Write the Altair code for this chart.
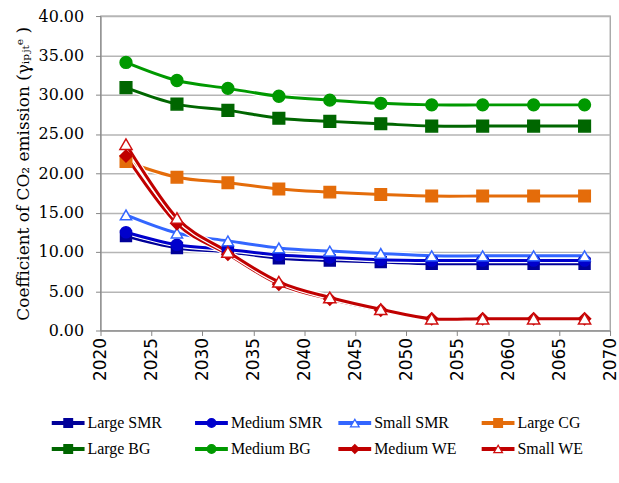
import altair as alt
import pandas as pd

years = [2022.5, 2027.5, 2032.5, 2037.5, 2042.5, 2047.5, 2052.5, 2057.5, 2062.5, 2067.5]

series_names = ["Large SMR", "Medium SMR", "Small SMR", "Large CG",
                "Large BG", "Medium BG", "Medium WE", "Small WE"]

large_smr = [12.0, 10.5, 10.0, 9.2, 8.9, 8.7, 8.5, 8.5, 8.5, 8.5]
medium_smr = [12.5, 10.9, 10.3, 9.6, 9.3, 9.0, 8.9, 8.9, 8.9, 8.9]
small_smr = [14.7, 12.4, 11.4, 10.5, 10.1, 9.8, 9.5, 9.5, 9.5, 9.5]
large_cg = [21.5, 19.5, 18.8, 18.0, 17.6, 17.3, 17.1, 17.1, 17.1, 17.1]
large_bg = [30.9, 28.8, 28.0, 27.0, 26.6, 26.3, 26.0, 26.0, 26.0, 26.0]
medium_bg = [34.1, 31.8, 30.8, 29.8, 29.3, 28.9, 28.7, 28.7, 28.7, 28.7]
medium_we = [22.2, 13.6, 9.7, 5.9, 4.0, 2.6, 1.5, 1.5, 1.5, 1.5]
small_we = [23.7, 14.3, 10.0, 6.2, 4.2, 2.7, 1.5, 1.5, 1.5, 1.5]

all_values = [large_smr, medium_smr, small_smr, large_cg,
              large_bg, medium_bg, medium_we, small_we]

line_colors = ["#000099", "#0000CC", "#3366FF", "#E46C0A",
               "#006600", "#009900", "#C00000", "#C00000"]
marker_shapes = ["square", "circle", "triangle-up", "square",
                 "square", "circle", "diamond", "triangle-up"]
marker_fills = ["#000099", "#0000CC", "#FFFFFF", "#E46C0A",
                "#006600", "#009900", "#C00000", "#FFFFFF"]
marker_strokes = ["#000099", "#0000CC", "#3366FF", "#E46C0A",
                  "#006600", "#009900", "#C00000", "#D01010"]
marker_sizes = [120, 150, 120, 150, 170, 150, 110, 120]

rows = []
for name, vals in zip(series_names, all_values):
    for yr, v in zip(years, vals):
        rows.append({"series": name, "year": yr, "value": v})
df = pd.DataFrame(rows)

SERIF = "DejaVu Serif"
LEGEND_FONT = "Liberation Serif"

x_enc = alt.X("year:Q",
              scale=alt.Scale(domain=[2020, 2070], nice=False, zero=False),
              axis=alt.Axis(values=list(range(2020, 2071, 5)), format="d",
                            labelAngle=270, labelFont="DejaVu Sans", labelFontSize=17,
                            labelColor="#000000", labelPadding=2, tickSize=5,
                            tickColor="#868686", domainColor="#868686",
                            grid=False, title=None, labelFlush=False,
                            labelOverlap=False))
y_enc = alt.Y("value:Q",
              scale=alt.Scale(domain=[0, 40], nice=False),
              axis=alt.Axis(values=list(range(0, 41, 5)), format=".2f",
                            labelFont=SERIF, labelFontSize=16, labelColor="#000000",
                            labelPadding=12, tickSize=5, tickColor="#868686",
                            domainColor="#868686", gridColor="#B5B5B5",
                            gridWidth=1.5,
                            title="Coefficient of CO\u2082 emission (\u03b3\u1d62\u209a\u2c7c\u209c\u1d49 )",
                            titleFont=SERIF, titleFontSize=17,
                            titleFontWeight="normal", titleColor="#000000",
                            titlePadding=6, labelOverlap=False))

base = alt.Chart(df)
layers = []
for i, name in enumerate(series_names):
    filt = base.transform_filter(alt.datum.series == name)
    layers.append(filt.mark_line(interpolate="cardinal", strokeWidth=5.5,
                                 color="#FFFFFF").encode(x=x_enc, y=y_enc))
    layers.append(filt.mark_line(interpolate="cardinal", strokeWidth=3,
                                 color=line_colors[i]).encode(x=x_enc, y=y_enc))

points = base.mark_point(filled=True, strokeWidth=1.5, opacity=1).encode(
    x=x_enc, y=y_enc,
    shape=alt.Shape("series:N", scale=alt.Scale(domain=series_names, range=marker_shapes), legend=None),
    fill=alt.Fill("series:N", scale=alt.Scale(domain=series_names, range=marker_fills), legend=None),
    stroke=alt.Stroke("series:N", scale=alt.Scale(domain=series_names, range=marker_strokes), legend=None),
    size=alt.Size("series:N", scale=alt.Scale(domain=series_names, range=marker_sizes), legend=None),
)
layers.append(points)

main = alt.layer(*layers).properties(width=512, height=316)

# legend panel built from the same series list
leg_df = pd.DataFrame({
    "series": series_names,
    "col": [i % 4 for i in range(len(series_names))],
    "row": [i // 4 for i in range(len(series_names))],
})
leg_df["x0"] = leg_df["col"]
leg_df["x1"] = leg_df["col"] + 0.229
leg_df["xm"] = leg_df["col"] + 0.115
leg_df["xt"] = leg_df["col"] + 0.25

LEG_W = 512
LEG_H = 66
px_per_col = 144.0
d0 = 49.0 / px_per_col
d1 = d0 + LEG_W / px_per_col
row_px = 26.0
row0 = 33.0
yd0 = -row0 / row_px
yd1 = yd0 + LEG_H / row_px

lx = alt.Scale(domain=[d0, d1], nice=False, zero=False)
ly = alt.Scale(domain=[yd0, yd1], nice=False, zero=False, reverse=True)

lbase = alt.Chart(leg_df)
leg_line = lbase.mark_rule(strokeWidth=4).encode(
    x=alt.X("x0:Q", scale=lx, axis=None),
    x2="x1:Q",
    y=alt.Y("row:Q", scale=ly, axis=None),
    color=alt.Color("series:N", scale=alt.Scale(domain=series_names, range=line_colors), legend=None),
)
leg_pts = lbase.mark_point(filled=True, strokeWidth=1.3, opacity=1).encode(
    x=alt.X("xm:Q", scale=lx, axis=None),
    y=alt.Y("row:Q", scale=ly, axis=None),
    shape=alt.Shape("series:N", scale=alt.Scale(domain=series_names, range=marker_shapes), legend=None),
    fill=alt.Fill("series:N", scale=alt.Scale(domain=series_names, range=marker_fills), legend=None),
    stroke=alt.Stroke("series:N", scale=alt.Scale(domain=series_names, range=marker_strokes), legend=None),
    size=alt.value(75),
)
leg_txt = lbase.mark_text(align="left", baseline="middle", font=LEGEND_FONT,
                          fontSize=16, color="#000000").encode(
    x=alt.X("xt:Q", scale=lx, axis=None),
    y=alt.Y("row:Q", scale=ly, axis=None),
    text="series:N",
)
legend = alt.layer(leg_line, leg_pts, leg_txt).properties(
    width=LEG_W, height=LEG_H, view=alt.ViewBackground(stroke="transparent"))

chart = alt.vconcat(main, legend, spacing=8).properties(
    padding={"left": 13, "top": 6, "right": 0, "bottom": 0},
    background="#FFFFFF",
).configure_view(stroke="#A0A0A0", strokeWidth=1.3)

chart.save("out.html", embed_options={"renderer": "svg", "actions": False})
